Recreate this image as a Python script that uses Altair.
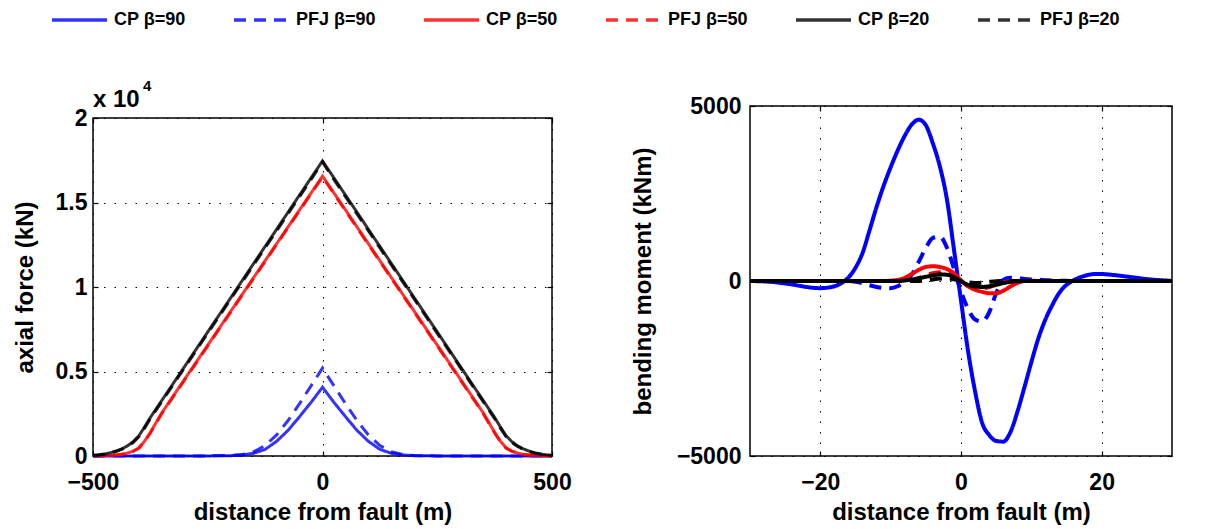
import altair as alt
import pandas as pd

FONT = "Liberation Sans"

# ---------------- series definitions ----------------
series_names = ["CP β=90", "PFJ β=90", "CP β=50", "PFJ β=50", "CP β=20", "PFJ β=20"]
series_colors = ["#0000ff", "#0000ff", "#ff0000", "#ff0000", "#000000", "#000000"]
series_dash = [[1, 0], [12, 8], [1, 0], [12, 8], [1, 0], [12, 8]]

# ---------------- axial force (left panel) ----------------
xa = [-500, -487.5, -475, -462.5, -450, -437.5, -425, -412.5, -400, -387.5, -375, -350,
      -300, -250, -200, -175, -150, -125, -100, -75, -50, -25, 0,
      25, 50, 75, 100, 125, 150, 175, 200, 250, 300, 350, 375, 387.5, 400, 412.5,
      425, 437.5, 450, 462.5, 475, 487.5, 500]

axial_cp90 = [0, 0, 0, 0, 0, 0, 0, 0, 0, 0, 0, 0, 0, 5, 20, 60, 160, 390, 870, 1520, 2330, 3170,
              4070,
              3170, 2330, 1520, 870, 390, 160, 60, 20, 5, 0, 0, 0, 0, 0, 0, 0, 0, 0, 0, 0, 0, 0]
axial_pfj90 = [0, 0, 0, 0, 0, 0, 0, 0, 0, 0, 0, 0, 0, 5, 30, 90, 250, 620, 1250, 2100, 3100, 4150,
               5200,
               4150, 3100, 2100, 1250, 620, 250, 90, 30, 5, 0, 0, 0, 0, 0, 0, 0, 0, 0, 0, 0, 0, 0]
axial_cp50 = [5, 10, 20, 35, 60, 100, 170, 290, 480, 880, 1400, 2560, 4560, 6560, 8560, 9560,
              10560, 11560, 12560, 13560, 14560, 15560,
              16560,
              15560, 14560, 13560, 12560, 11560, 10560, 9560, 8560, 6560, 4560, 2560, 1400,
              880, 480, 290, 170, 100, 60, 35, 20, 10, 5]
axial_pfj50 = [5, 10, 18, 32, 55, 92, 160, 275, 460, 850, 1360, 2510, 4510, 6510, 8510, 9510,
               10510, 11510, 12510, 13510, 14510, 15510,
               16500,
               15510, 14510, 13510, 12510, 11510, 10510, 9510, 8510, 6510, 4510, 2510, 1360,
               850, 460, 275, 160, 92, 55, 32, 18, 10, 5]
axial_cp20 = [40, 70, 120, 190, 290, 420, 600, 850, 1200, 1720, 2280, 3290, 5310, 7340, 9360,
              10380, 11390, 12400, 13410, 14430, 15440, 16450,
              17460,
              16450, 15440, 14430, 13410, 12400, 11390, 10380, 9360, 7340, 5310, 3290, 2280,
              1720, 1200, 850, 600, 420, 290, 190, 120, 70, 40]
axial_pfj20 = [30, 60, 105, 170, 265, 390, 560, 800, 1140, 1650, 2210, 3220, 5240, 7260, 9280,
               10290, 11300, 12310, 13320, 14330, 15340, 16350,
               17380,
               16350, 15340, 14330, 13320, 12310, 11300, 10290, 9280, 7260, 5240, 3220, 2210,
               1650, 1140, 800, 560, 390, 265, 170, 105, 60, 30]

# ---------------- bending moment (right panel) ----------------
xm = [-30, -29, -28, -27, -26, -25, -24, -23, -22, -21, -20, -19, -18, -17, -16, -15, -14, -13,
      -12, -11, -10, -9, -8, -7, -6, -5, -4, -3, -2, -1, 0, 1, 2, 3, 4, 5, 6, 7, 8, 9, 10, 11,
      12, 13, 14, 15, 16, 17, 18, 19, 20, 21, 22, 23, 24, 25, 26, 27, 28, 29, 30]

moment_cp90 = [0, -5, -12, -25, -45, -70, -100, -135, -170, -195, -205, -190, -150, -60, 100,
               380, 800, 1450, 2120, 2720, 3250, 3730, 4150, 4470, 4610, 4450, 3930, 3270, 2330,
               900, -560, -2000, -3150, -4050, -4400, -4570, -4590, -4330, -3750, -3050, -2320,
               -1640, -1100, -680, -330, -110, 20, 110, 170, 200, 200, 185, 165, 140, 115, 90,
               65, 45, 28, 15, 5]
moment_pfj90 = [0, 0, 0, 0, 0, 0, 0, 0, 0, 0, 0, 0, 0, 0, 0, -20, -60, -120, -170, -200, -205,
                -150, -30, 180, 550, 950, 1230, 1270, 950, 350, -300, -800, -1100, -1160, -900,
                -350, 30, 90, 80, 60, 45, 35, 25, 15, 10, 5, 0, 0, 0, 0, 0, 0, 0, 0, 0, 0, 0, 0,
                0, 0, 0]
moment_cp50 = [0, 0, 0, 0, 0, 0, 0, 0, 0, 0, 0, 0, 0, 0, 0, 0, 0, 0, 0, 0, 10, 30, 90, 200, 320,
               400, 420, 400, 340, 220, 20, -150, -250, -310, -350, -350, -280, -160, -60, 0,
               10, 0, 0, 0, 0, 0, 0, 0, 0, 0, 0, 0, 0, 0, 0, 0, 0, 0, 0, 0, 0]
moment_pfj50 = [0, 0, 0, 0, 0, 0, 0, 0, 0, 0, 0, 0, 0, 0, 0, 0, 0, 0, 0, 0, 0, 0, 0, 20, 80,
                160, 220, 250, 230, 130, -20, -140, -200, -210, -170, -100, -40, -10, 0, 0, 0,
                0, 0, 0, 0, 0, 0, 0, 0, 0, 0, 0, 0, 0, 0, 0, 0, 0, 0, 0, 0]
moment_cp20 = [0, 0, 0, 0, 0, 0, 0, 0, 0, 0, 0, 0, 0, 0, 0, 0, 0, 0, 0, 0, 0, 0, 15, 40, 80,
               120, 160, 190, 180, 110, -10, -110, -160, -170, -150, -110, -60, -25, -5, 0, 0,
               0, 0, 0, 0, 0, 0, 0, 0, 0, 0, 0, 0, 0, 0, 0, 0, 0, 0, 0, 0]
moment_pfj20 = [0, 0, 0, 0, 0, 0, 0, 0, 0, 0, 0, 0, 0, 0, 0, 0, 0, 0, 0, 0, 0, 0, 0, 0, 0, 15,
                45, 70, 80, 50, 0, -40, -60, -50, -25, -5, 0, 0, 0, 0, 0, 0, 0, 0, 0, 0, 0, 0,
                0, 0, 0, 0, 0, 0, 0, 0, 0, 0, 0, 0, 0]

left_ticks_x = [-500, 0, 500]
left_ticks_y = [0, 5000, 10000, 15000, 20000]
right_ticks_x = [-20, 0, 20]
right_ticks_y = [-5000, 0, 5000]
multiplier_base = "x 10"
multiplier_exp = "4"

LW, LH = 459, 338   # left panel plot area
RW, RH = 422, 350   # right panel plot area


def to_long(xs, cols):
    rows = []
    for name, vals in zip(series_names, cols):
        for x, v in zip(xs, vals):
            rows.append({"x": x, "v": v, "series": name})
    return pd.DataFrame(rows)


df_axial = to_long(xa, [axial_cp90, axial_pfj90, axial_cp50, axial_pfj50, axial_cp20, axial_pfj20])
df_moment = to_long(xm, [moment_cp90, moment_pfj90, moment_cp50, moment_pfj50, moment_cp20, moment_pfj20])

legend = alt.Legend(
    orient="none", legendX=-43, legendY=-97, direction="horizontal", columns=6, title=None,
    symbolType="stroke", symbolSize=3025, symbolStrokeWidth=3.5, clipHeight=22,
    labelFont=FONT, labelFontSize=18, labelFontWeight="bold", labelColor="black",
    labelOffset=5, columnPadding=46, padding=0, labelLimit=300,
)
color_enc = alt.Color("series:N", scale=alt.Scale(domain=series_names, range=series_colors), legend=legend)
dash_enc = alt.StrokeDash("series:N", scale=alt.Scale(domain=series_names, range=series_dash), legend=legend)

axis_style = dict(
    labelFont=FONT, labelFontSize=23, labelFontWeight="bold", labelColor="black",
    titleFont=FONT, titleFontSize=24, titleFontWeight="bold", titleColor="black",
    domain=False, ticks=False, grid=True, gridColor="black", gridDash=[1.5, 9], gridWidth=1,
    labelFlush=False, labelOverlap=False,
)
tick_style = dict(labels=False, ticks=True, tickSize=5, tickColor="black", tickWidth=1.2,
                  domain=False, grid=False, title=None)

left_xs = alt.Scale(domain=[-500, 500], nice=False, zero=False)
left_ys = alt.Scale(domain=[0, 20000], nice=False)
right_xs = alt.Scale(domain=[-30, 30], nice=False, zero=False)
right_ys = alt.Scale(domain=[-5000, 5000], nice=False)


def inward_ticks(df, xs, ys, xvals, yvals, w, h):
    """Two invisible layers whose axes sit on the opposite edges, giving inward ticks on all sides."""
    a = alt.Chart(df).mark_line(strokeOpacity=0).encode(
        x=alt.X("x:Q", scale=xs, axis=alt.Axis(orient="top", offset=-h, values=xvals, **tick_style)),
        y=alt.Y("v:Q", scale=ys, axis=alt.Axis(orient="right", offset=-w, values=yvals, **tick_style)),
        detail="series:N",
    )
    b = alt.Chart(df).mark_line(strokeOpacity=0).encode(
        x=alt.X("x:Q", scale=xs, axis=alt.Axis(orient="bottom", offset=-h, values=xvals, **tick_style)),
        y=alt.Y("v:Q", scale=ys, axis=alt.Axis(orient="left", offset=-w, values=yvals, **tick_style)),
        detail="series:N",
    )
    return a, b


left_lines = alt.Chart(df_axial).mark_line(strokeWidth=3, opacity=0.8).encode(
    x=alt.X("x:Q", scale=left_xs,
            axis=alt.Axis(values=left_ticks_x, format="d", title="distance from fault (m)",
                          labelPadding=15, titlePadding=6, **axis_style)),
    y=alt.Y("v:Q", scale=left_ys,
            axis=alt.Axis(values=left_ticks_y, labelExpr="format(datum.value / 10000, '~g')",
                          title="axial force (kN)", labelPadding=6, titlePadding=18, **axis_style)),
    color=color_enc,
    strokeDash=dash_enc,
)
lt_a, lt_b = inward_ticks(df_axial, left_xs, left_ys, left_ticks_x, left_ticks_y, LW, LH)
left_plot = alt.layer(left_lines, lt_a, lt_b).resolve_axis(x="independent", y="independent").properties(
    width=LW, height=LH)

spacer = alt.layer(
    alt.Chart(pd.DataFrame({"t": [multiplier_base]})).mark_text(
        align="left", baseline="alphabetic", font=FONT, fontSize=24, fontWeight="bold", color="black"
    ).encode(x=alt.value(0), y=alt.value(1), text="t:N"),
    alt.Chart(pd.DataFrame({"t": [multiplier_exp]})).mark_text(
        align="left", baseline="alphabetic", font=FONT, fontSize=15, fontWeight="bold", color="black"
    ).encode(x=alt.value(50), y=alt.value(-15), text="t:N"),
).properties(width=LW, height=12, view=alt.ViewBackground(stroke="transparent"))

left_col = alt.vconcat(spacer, left_plot, spacing=0, bounds="flush")

right_lines = alt.Chart(df_moment).mark_line(strokeWidth=4, interpolate="monotone").encode(
    x=alt.X("x:Q", scale=right_xs,
            axis=alt.Axis(values=right_ticks_x, format="d", title="distance from fault (m)",
                          labelPadding=15, titlePadding=6, **axis_style)),
    y=alt.Y("v:Q", scale=right_ys,
            axis=alt.Axis(values=right_ticks_y, format="d", title="bending moment (kNm)",
                          labelPadding=9, titlePadding=21, **axis_style)),
    color=color_enc,
    strokeDash=dash_enc,
)
rt_a, rt_b = inward_ticks(df_moment, right_xs, right_ys, right_ticks_x, right_ticks_y, RW, RH)
right_plot = alt.layer(right_lines, rt_a, rt_b).resolve_axis(x="independent", y="independent").properties(
    width=RW, height=RH)

# nested flush group counts as zero width, so spacing spans the left panel plus the gap
chart = alt.hconcat(left_col, right_plot, spacing=657, bounds="flush").properties(
    padding={"left": 4, "top": 1, "right": 5, "bottom": 0}
).configure_view(stroke="black", strokeWidth=1.5)

chart.save("out.html", embed_options={"renderer": "svg", "actions": False})
